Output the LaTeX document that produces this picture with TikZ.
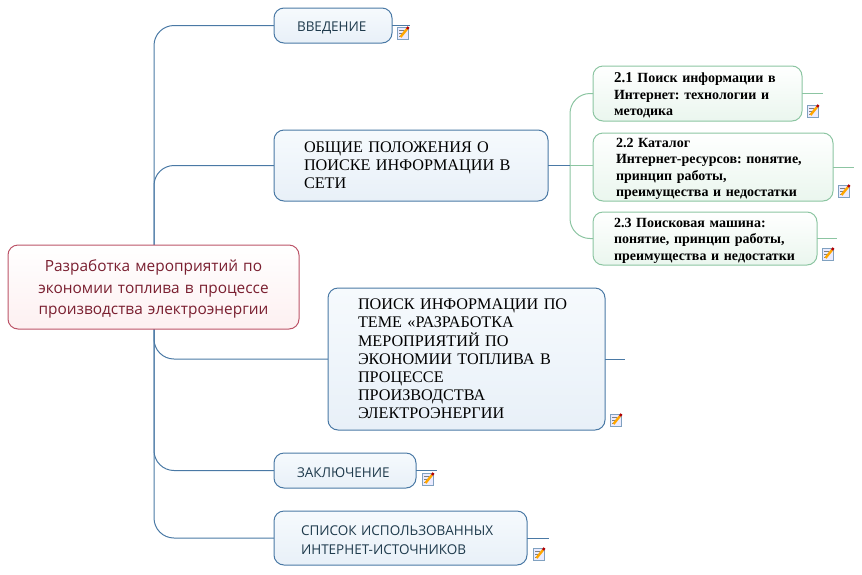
\documentclass[tikz,border=0pt]{standalone}
\usepackage{fontspec}
\setmainfont{Liberation Serif}
\newfontfamily\mapfont{Open Sans}
\usetikzlibrary{positioning, backgrounds}
\frenchspacing
\definecolor{rootline}{HTML}{BC5468}
\definecolor{roottext}{HTML}{7A1F30}
\definecolor{rootfill}{HTML}{FDF0F1}
\definecolor{topicline}{HTML}{4A79A5}
\definecolor{topictext}{HTML}{1E3A4C}
\definecolor{topictop}{HTML}{F6FAFD}
\definecolor{topicfill}{HTML}{E8F0F8}
\definecolor{subline}{HTML}{8CC5A2}
\definecolor{subfill}{HTML}{EAF6EE}

\begin{document}
\begin{tikzpicture}[x=1pt, y=1pt, node distance=10pt,
		root/.style={rectangle, draw=rootline, line width=1pt, top color=white, bottom color=rootfill, rounded corners=10pt, inner sep=0pt, outer sep=0pt, text width=270pt, execute at begin node={\rule{0pt}{16pt}}, font=\mapfont\fontsize{15.4}{21.5}\selectfont, text=roottext, align=center},
		topic/.style={rectangle, draw=topicline, line width=1pt, top color=topictop, bottom color=topicfill, rounded corners=10pt, inner sep=0pt, outer sep=0pt, align=left},
		plain/.style={topic, execute at begin node={\rule{0pt}{14.5pt}}, font=\mapfont\fontsize{13.5}{19}\selectfont, text=topictext},
		serif/.style={topic, font=\fontsize{16.2}{18.2}\selectfont},
		sub/.style={rectangle, draw=subline, line width=1pt, top color=white, bottom color=subfill, rounded corners=10pt, inner sep=0pt, outer sep=0pt, execute at begin node={\rule{0pt}{13.5pt}}, align=left, font=\bfseries\fontsize{14}{16.5}\selectfont},
		branch/.style={draw=topicline, line width=1pt, rounded corners=20pt},
		subbranch/.style={draw=subline, line width=1pt, rounded corners=20pt},
		noteicon/.pic={
			\draw[draw=topicline!70, fill=blue!8, line width=.7pt] (0,0) rectangle (11,-12);
			\draw[gray, line width=.6pt] (2,-3) -- (7,-3) (2,-6) -- (5,-6) (2,-9) -- (4,-9);
			\draw[orange!70!yellow, line width=2.4pt] (3.5,-10) -- (10,-2);
			\draw[red!70!black, line width=2.4pt] (10,-2) -- (11.5,0);
		}]
		
		\useasboundingbox (0,0) rectangle (862,-574);
		
		\node [root, minimum width=291pt, minimum height=84pt, anchor=north west] (central) at (8,-245) {Разработка мероприятий по\\экономии топлива в процессе\\производства электроэнергии};
		\node [plain, minimum width=118pt, minimum height=35pt, text width=72pt, anchor=north west] (intro) at (274,-8) {ВВЕДЕНИЕ};
		\node [serif, minimum width=274pt, minimum height=71pt, text width=214pt, below=87pt of intro.south west, anchor=north west] (general) {ОБЩИЕ ПОЛОЖЕНИЯ О\\ПОИСКЕ ИНФОРМАЦИИ В\\СЕТИ};
		\node [serif, minimum width=277pt, minimum height=142pt, text width=217pt, anchor=north west] (search) at (328,-288) {ПОИСК ИНФОРМАЦИИ ПО\\ТЕМЕ «РАЗРАБОТКА\\МЕРОПРИЯТИЙ ПО\\ЭКОНОМИИ ТОПЛИВА В\\ПРОЦЕССЕ\\ПРОИЗВОДСТВА\\ЭЛЕКТРОЭНЕРГИИ};
		\node [plain, minimum width=142pt, minimum height=35pt, text width=96pt, anchor=north west] (finish) at (274,-453) {ЗАКЛЮЧЕНИЕ};
		\node [plain, minimum width=253pt, minimum height=54pt, text width=199pt, below=23pt of finish.south west, anchor=north west] (sources) {СПИСОК ИСПОЛЬЗОВАННЫХ\\ИНТЕРНЕТ-ИСТОЧНИКОВ};
		
		\node [sub, minimum width=240pt, minimum height=68pt, text width=194pt, anchor=north west] (sub2) at (593,-133) {2.2 Каталог\\Интернет-ресурсов: понятие,\\принцип работы,\\преимущества и недостатки};
		\node [sub, minimum width=209pt, minimum height=55pt, text width=167pt, above=12pt of sub2.north west, anchor=south west] (sub1) {{\fontsize{15}{16.5}\selectfont 2.1} Поиск информации в\\Интернет: технологии и\\методика};
		\node [sub, minimum width=224pt, minimum height=53pt, text width=182pt, below=11pt of sub2.south west, anchor=north west] (sub3) {2.3 Поисковая машина:\\понятие, принцип работы,\\преимущества и недостатки};
		
		\coordinate (stem) at (154,-287);
		\coordinate (fork) at (general.east -| 570,0);
		
		% Ветви
		\begin{scope}[on background layer]
			\path [branch] (stem) |- (intro.west);
			\path [branch] (stem) |- (general.west);
			\path [branch] (stem) |- (search.west);
			\path [branch] (stem) |- (finish.west);
			\path [branch] (stem) |- (sources.west);
		\end{scope}
		\path [subbranch] (fork) |- (sub1.west);
		\path [subbranch] (fork) |- (sub3.west);
		\path [subbranch] (fork) -- (sub2.west |- fork);
		\path [branch] (general.east) -- (fork);
		
		\foreach \n/\len in {intro/18, search/20, finish/21, sources/22}
			\path [branch] (\n.east) -- ++(\len,0) coordinate (\n end);
		\foreach \n/\len in {sub1/21, sub2/21, sub3/20}
			\path [subbranch] (\n.east) -- ++(\len,0) coordinate (\n end);
		
		% Заметки
		\foreach \x/\y in {397/27, 807/105, 838/185, 822/248, 610/414, 422/473, 533/548}
			\pic at (\x,-\y) {noteicon};
		
	\end{tikzpicture}
\end{document}
